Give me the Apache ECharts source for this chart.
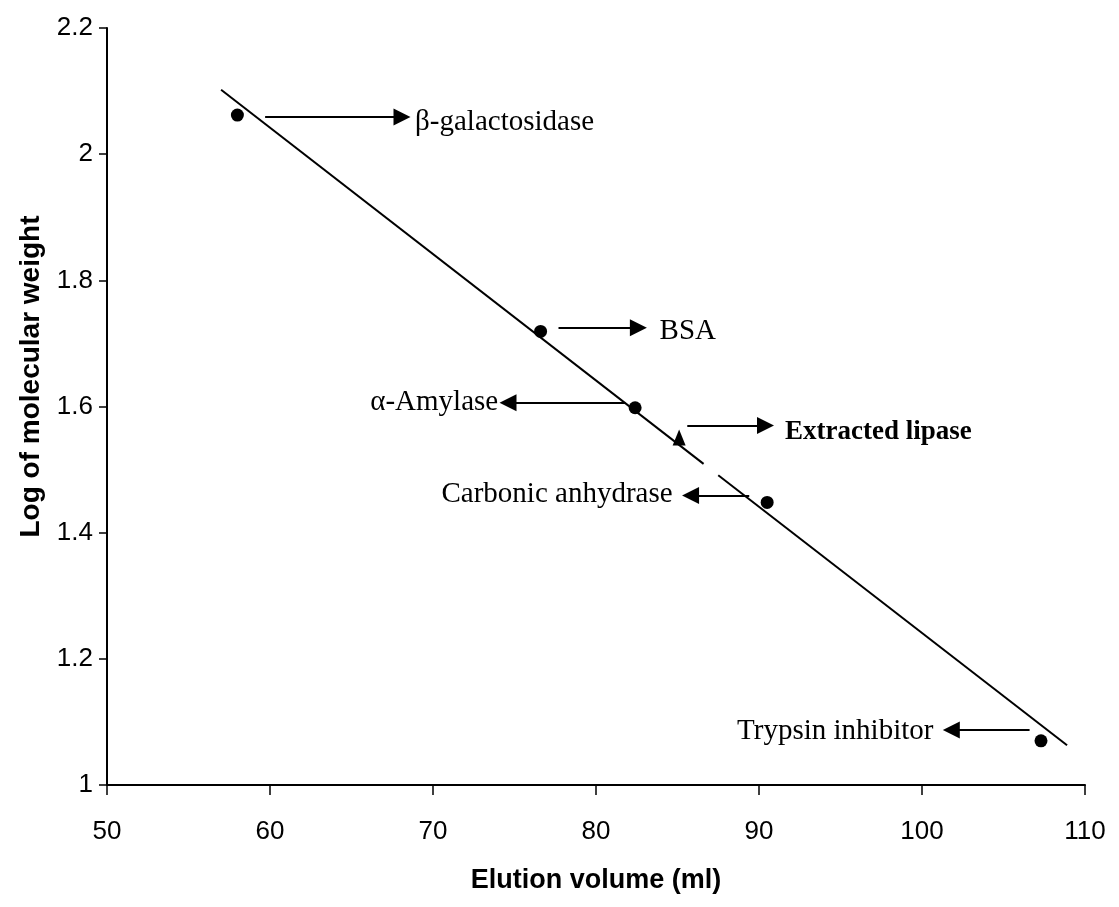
<!DOCTYPE html>
<html>
<head>
<meta charset="utf-8">
<script src="https://cdn.jsdelivr.net/npm/echarts@6/dist/echarts.min.js"></script>
<style>
html,body{margin:0;padding:0;background:#fff;}
#chart{width:1119px;height:907px;}
</style>
</head>
<body>
<div id="chart"></div>
<script>
// Standard proteins
const proteins = ['β-galactosidase', 'BSA', 'α-Amylase', 'Carbonic anhydrase', 'Trypsin inhibitor'];
const elutionVolume = [58.0, 76.6, 82.4, 90.5, 107.3];
const logMW = [2.062, 1.719, 1.598, 1.448, 1.07];

// Extracted lipase (triangle)
const lipaseVolume = [85.1];
const lipaseLogMW = [1.551];

// Calibration line, drawn in two pieces (small gap near the lipase label)
const fitPartA = [[57.0, 2.102], [86.6, 1.509]];
const fitPartB = [[87.5, 1.491], [108.9, 1.063]];

// Annotation arrows: [x, y] start and end (arrow head at the end)
const arrowFrom = [[59.7, 2.059], [77.7, 1.725], [81.8, 1.606], [85.6, 1.570], [89.4, 1.459], [106.6, 1.087]];
const arrowTo   = [[68.1, 2.059], [82.6, 1.725], [74.6, 1.606], [90.4, 1.570], [85.8, 1.459], [101.8, 1.087]];

// Annotation texts: [x, y], side
const noteText = ['β-galactosidase', 'BSA', 'α-Amylase', 'Extracted lipase', 'Carbonic anhydrase', 'Trypsin inhibitor'];
const notePos  = [[68.9, 2.051], [83.9, 1.719], [74.0, 1.606], [91.6, 1.559], [84.7, 1.461], [100.7, 1.085]];
const noteSide = ['right', 'right', 'left', 'right', 'left', 'left'];
const noteBold = [false, false, false, true, false, false];

// Axis ticks
const xMin = 50, xMax = 110, xStep = 10;
const yMin = 1, yMax = 2.2, yStep = 0.2;

const chart = echarts.init(document.getElementById('chart'));

const arrowHead = 'path://M5,0L10,14L0,14Z';
const sans = 'Liberation Sans, Arial, sans-serif';
const serif = 'Liberation Serif, Times New Roman, serif';

const option = {
  animation: false,
  backgroundColor: '#ffffff',
  grid: { left: 107, right: 34, top: 28, bottom: 122, containLabel: false },
  xAxis: {
    type: 'value', min: xMin, max: xMax, interval: xStep,
    name: 'Elution volume (ml)', nameLocation: 'middle', nameGap: 82,
    nameTextStyle: { fontFamily: sans, fontWeight: 'bold', fontSize: 27, color: '#000' },
    axisLine: { show: true, onZero: false, lineStyle: { color: '#000', width: 2 } },
    axisTick: { show: true, inside: false, length: 10, lineStyle: { color: '#000', width: 1.5 } },
    axisLabel: { margin: 34, fontFamily: sans, fontSize: 26, color: '#000' },
    splitLine: { show: false }
  },
  yAxis: {
    type: 'value', min: yMin, max: yMax, interval: yStep,
    name: 'Log of molecular weight', nameLocation: 'middle', nameGap: 62,
    nameTextStyle: { fontFamily: sans, fontWeight: 'bold', fontSize: 28, color: '#000', padding: [0, 0, 0, 60] },
    axisLine: { show: true, onZero: false, lineStyle: { color: '#000', width: 2 } },
    axisTick: { show: true, inside: false, length: 8, lineStyle: { color: '#000', width: 1.5 } },
    axisLabel: { margin: 14, fontFamily: sans, fontSize: 26, color: '#000',
      formatter: v => String(Math.round(v * 10) / 10) },
    splitLine: { show: false }
  },
  series: [
    {
      type: 'line', data: fitPartA, symbol: 'none', silent: true,
      lineStyle: { color: '#000', width: 2 }
    },
    {
      type: 'line', data: fitPartB, symbol: 'none', silent: true,
      lineStyle: { color: '#000', width: 2 }
    },
    {
      type: 'scatter', symbol: 'circle', symbolSize: 13,
      itemStyle: { color: '#000', opacity: 1 },
      data: elutionVolume.map((x, i) => ({ value: [x, logMW[i]], name: proteins[i] }))
    },
    {
      type: 'scatter', symbol: 'triangle', symbolSize: [13, 16],
      itemStyle: { color: '#000', opacity: 1 },
      data: lipaseVolume.map((x, i) => [x, lipaseLogMW[i]])
    },
    {
      type: 'lines', coordinateSystem: 'cartesian2d', silent: true,
      symbol: ['none', arrowHead], symbolSize: 17,
      lineStyle: { color: '#000', width: 2, opacity: 1 },
      data: arrowFrom.map((p, i) => ({ coords: [p, arrowTo[i]] }))
    },
    {
      type: 'scatter', symbolSize: 0, silent: true,
      itemStyle: { color: 'rgba(0,0,0,0)', opacity: 1 },
      data: notePos.map((p, i) => ({
        value: p, name: noteText[i],
        label: {
          show: true, formatter: noteText[i], position: noteSide[i], distance: 0,
          fontFamily: serif,
          fontSize: noteBold[i] ? 27 : 29, fontWeight: noteBold[i] ? 'bold' : 'normal',
          letterSpacing: noteBold[i] ? 0.8 : 1.1, color: '#000'
        }
      }))
    }
  ]
};
chart.setOption(option);
</script>
</body>
</html>
